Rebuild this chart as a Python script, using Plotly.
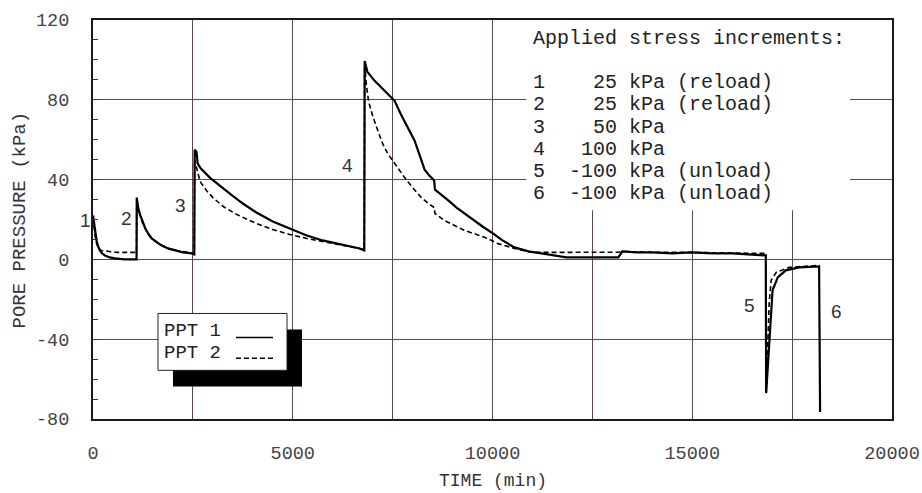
import plotly.graph_objects as go

# ---------------- data ----------------
t_ppt1 = [0, 20, 50, 90, 130, 170, 230, 300, 420, 550, 800, 1090,
          1095, 1130, 1175, 1235, 1300, 1380, 1470, 1600, 1720, 1880, 2050, 2250, 2470, 2535,
          2545, 2590, 2620, 2700, 2925, 3200, 3425, 3750, 4090, 4500, 4925, 5350, 5750, 6200, 6675, 6790,
          6800, 6830, 6870, 6950, 7050, 7200, 7400, 7550, 7700, 7850, 8050, 8180, 8300, 8420, 8540,
          8560, 8725, 8900, 9100, 9300, 9500, 9750, 9975, 10250, 10550, 10900, 11225, 11500, 11850,
          12600, 13150, 13250, 13600, 14000, 14500, 15000, 15500, 16000, 16500, 16840,
          16850, 16930, 16970, 17010, 17140, 17340, 17675, 18175, 18200]
p_ppt1 = [22, 19, 15, 9.5, 6.5, 4.5, 3, 2, 1, 0.5, 0, 0,
          31, 26, 22.5, 19, 16, 13, 10.5, 8.5, 7, 5.5, 4.5, 3.5, 3, 2.5,
          55, 54, 48, 45.5, 41, 36.5, 33, 28, 23.5, 19, 15.5, 12, 9.5, 7.5, 5.5, 4.5,
          99.5, 97, 94, 92, 89.5, 86.5, 82.5, 79.5, 73, 67, 59.5, 52, 45, 42, 39.5,
          35, 32.5, 29.5, 26, 23, 20, 16.5, 13.5, 9.5, 6, 4, 3, 2, 1,
          1, 1, 4, 3.5, 3.5, 3, 3.5, 3, 3, 2.5, 2,
          -67, -40, -24, -15.5, -9, -5.5, -4, -3.5, -76.5]

t_ppt2 = [0, 20, 50, 90, 125, 200, 350, 600, 1090,
          1095, 1130, 1175, 1235, 1300, 1380, 1470, 1600, 1720, 1880, 2050, 2250, 2470, 2535,
          2545, 2590, 2640, 2700, 2840, 3000, 3260, 3600, 4090, 4500, 4925, 5350, 5750, 6200, 6675, 6790,
          6800, 6820, 6840, 6900, 7000, 7130, 7250, 7380, 7550, 7800, 8000, 8220, 8400, 8540,
          8560, 8800, 9050, 9300, 9600, 9880, 10125, 10550, 11000, 11500, 12500, 13150, 13250,
          14000, 15000, 16000, 16840,
          16850, 16900, 16925, 16975, 17100, 17425, 18100, 18180]
p_ppt2 = [21, 17, 12, 8, 6, 4.5, 4, 3.5, 3.5,
          30, 25.5, 22.5, 18.5, 15.5, 12.5, 10.5, 8.5, 7, 5.5, 4.5, 4, 3.5, 3,
          50, 46, 42, 38.5, 34.5, 31, 26.5, 22.5, 18, 15, 12.5, 10.5, 9, 7, 5.5, 5,
          98, 92, 88, 79, 72, 64.5, 58, 53, 48, 41, 36, 31, 28, 26,
          23, 19.5, 17, 14.5, 12.5, 10.5, 8, 5.5, 3.5, 3.5, 3.6, 3.6, 4,
          3.5, 3.5, 3.2, 3,
          -67, -40, -22, -10.5, -6.5, -4, -3, -3]

x_ticks = [0, 5000, 10000, 15000, 20000]
y_ticks = [-80, -40, 0, 40, 80, 120]

stage_labels = ["1", "2", "3", "4", "5", "6"]
stage_label_t = [-200, 850, 2200, 6375, 16425, 18600]
stage_label_p = [19.5, 20.5, 27, 47, -23, -26]

box_title = "Applied stress increments:"
box_lines = ["1    25 kPa (reload)",
             "2    25 kPa (reload)",
             "3    50 kPa",
             "4   100 kPa",
             "5  -100 kPa (unload)",
             "6  -100 kPa (unload)"]
box_line_p = [88.7, 77.4, 66.2, 55.1, 44.1, 33.1]
legend_names = ["PPT 1", "PPT 2"]

# ---------------- figure ----------------
MONO = "Courier New, Liberation Mono, monospace"
GRID = "#5e4550"
X0, X1 = 0, 20000

fig = go.Figure()
fig.add_trace(go.Scatter(x=t_ppt1, y=p_ppt1, mode="lines", name=legend_names[0],
                         line=dict(color="black", width=2.2)))
fig.add_trace(go.Scatter(x=t_ppt2, y=p_ppt2, mode="lines", name=legend_names[1],
                         line=dict(color="black", width=1.6, dash="5px,3px")))

fig.update_layout(
    width=922, height=493,
    margin=dict(l=93, r=30, t=20, b=74),
    plot_bgcolor="white", paper_bgcolor="white",
    showlegend=False,
    font=dict(family=MONO, color="#333333", size=18),
)
fig.update_xaxes(range=[X0, X1], tickvals=x_ticks, ticktext=[str(v) for v in x_ticks],
                 automargin=False,
                 showgrid=True, gridcolor=GRID, gridwidth=1,
                 minor=dict(dtick=2500, tick0=0, showgrid=True, gridcolor=GRID, gridwidth=1),
                 zeroline=False, showline=True, mirror=True, linecolor="#1a1a1a", linewidth=2,
                 ticks="", tickfont=dict(family=MONO, size=18.5, color="#444444"),
                 ticklabelstandoff=16)
fig.update_yaxes(range=[-80, 120], tickvals=y_ticks, ticktext=[str(v) for v in y_ticks],
                 automargin=False,
                 showgrid=True, gridcolor=GRID, gridwidth=1,
                 minor=dict(dtick=10, tick0=0, ticks="inside", ticklen=5, tickcolor="#333",
                            showgrid=False),
                 zeroline=False, showline=True, mirror=True, linecolor="#1a1a1a", linewidth=2,
                 ticks="inside", ticklen=5, tickcolor="#333",
                 tickfont=dict(family=MONO, size=18.5, color="#444444"),
                 ticklabelstandoff=18)

# white area behind the stress-increment text (hides grid lines)
fig.add_shape(type="rect", xref="x", yref="y", x0=10850, x1=18950, y0=24.6, y1=120,
              fillcolor="white", line=dict(width=0), layer="between")

# text block
fig.add_annotation(x=10963, y=110.8, xref="x", yref="y", text=box_title,
                   showarrow=False, xanchor="left", yanchor="middle",
                   font=dict(family=MONO, size=20, color="#222222"))
for txt, yp in zip(box_lines, box_line_p):
    fig.add_annotation(x=10963, y=yp, xref="x", yref="y", text=txt.replace(" ", "\u00a0"),
                       showarrow=False, xanchor="left", yanchor="middle",
                       font=dict(family=MONO, size=20, color="#222222"))

# stage labels (paper x so that label 1, left of the axis, is still drawn)
for lab, tx, py in zip(stage_labels, stage_label_t, stage_label_p):
    fig.add_annotation(x=(tx - X0) / (X1 - X0), y=py, xref="paper", yref="y", text=lab,
                       showarrow=False, xanchor="center", yanchor="middle",
                       font=dict(family="Liberation Sans, Arial, sans-serif", size=19,
                                 color="#333333"))

# legend box with shadow
fig.add_shape(type="rect", xref="x", yref="y", x0=2002, x1=5231, y0=-63.7, y1=-35.1,
              fillcolor="black", line=dict(width=0), layer="above")
fig.add_shape(type="rect", xref="x", yref="y", x0=1627, x1=4856, y0=-55.6, y1=-27.1,
              fillcolor="white", line=dict(color="#222", width=1), layer="above")
fig.add_annotation(x=1727, y=-36.1, xref="x", yref="y", text=legend_names[0].replace(" ", "\u00a0"),
                   showarrow=False, xanchor="left", yanchor="middle",
                   font=dict(family=MONO, size=19, color="#222222"))
fig.add_annotation(x=1727, y=-47.1, xref="x", yref="y", text=legend_names[1].replace(" ", "\u00a0"),
                   showarrow=False, xanchor="left", yanchor="middle",
                   font=dict(family=MONO, size=19, color="#222222"))
fig.add_shape(type="line", xref="x", yref="y", x0=3579, x1=4505, y0=-39.1, y1=-39.1,
              line=dict(color="black", width=1.5), layer="above")
fig.add_shape(type="line", xref="x", yref="y", x0=3579, x1=4555, y0=-49.6, y1=-49.6,
              line=dict(color="black", width=1.5, dash="5px,3px"), layer="above")

# axis titles
fig.add_annotation(x=0.5, y=-0.1566, xref="paper", yref="paper", text="TIME (min)",
                   showarrow=False, xanchor="center", yanchor="middle",
                   font=dict(family=MONO, size=18, color="#333333"))
fig.add_annotation(x=-0.0914, y=0.5, xref="paper", yref="paper", text="PORE PRESSURE (kPa)",
                   showarrow=False, xanchor="center", yanchor="middle", textangle=-90,
                   font=dict(family=MONO, size=19, color="#333333"))

fig.write_html("out.html")
